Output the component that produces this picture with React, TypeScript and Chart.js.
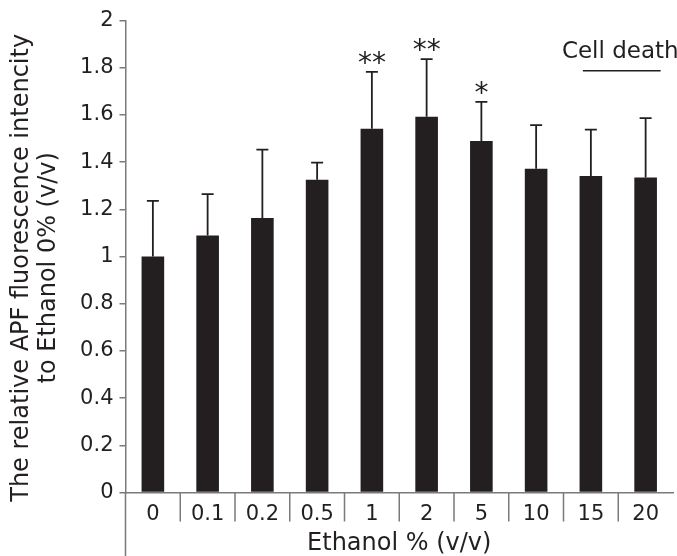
import React, { useEffect, useRef } from "react";
import { Chart, registerables } from "chart.js";

Chart.register(...registerables);

const categories = ["0", "0.1", "0.2", "0.5", "1", "2", "5", "10", "15", "20"];
const values = [1.0, 1.089, 1.163, 1.325, 1.541, 1.592, 1.489, 1.372, 1.341, 1.335];
const errors = [0.236, 0.175, 0.29, 0.073, 0.241, 0.244, 0.166, 0.185, 0.197, 0.251];
const significance = ["", "", "", "", "**", "**", "*", "", "", ""];
const yTitleLines = ["The relative APF fluorescence intencity", "to Ethanol 0% (v/v)"];
const xTitle = "Ethanol % (v/v)";
const cellDeathLabel = "Cell death";

const FONT = "'DejaVu Sans', Verdana, sans-serif";
const INK = "#231f20";
const AXIS = "#7a7a7a";

const decorPlugin = {
  id: "decor",
  afterDatasetsDraw(chart: any) {
    const ctx = chart.ctx;
    const x = chart.scales.x;
    const y = chart.scales.y;
    const area = chart.chartArea;
    ctx.save();
    // error bars
    ctx.strokeStyle = INK;
    ctx.lineWidth = 1.8;
    values.forEach((v, i) => {
      const px = x.getPixelForValue(i);
      const top = y.getPixelForValue(v + errors[i]);
      const base = y.getPixelForValue(v);
      ctx.beginPath();
      ctx.moveTo(px, base);
      ctx.lineTo(px, top);
      ctx.moveTo(px - 6, top);
      ctx.lineTo(px + 6, top);
      ctx.stroke();
      if (significance[i]) {
        ctx.fillStyle = INK;
        ctx.font = `28px ${FONT}`;
        ctx.textAlign = "center";
        ctx.textBaseline = "middle";
        ctx.fillText(significance[i], px, top - 7);
      }
    });
    // cell death annotation
    const x1 = x.getPixelForValue(8) - 8;
    const x2 = x.getPixelForValue(9) + 15;
    const ly = y.getPixelForValue(1.787);
    ctx.strokeStyle = INK;
    ctx.lineWidth = 1.5;
    ctx.beginPath();
    ctx.moveTo(x1, ly);
    ctx.lineTo(x2, ly);
    ctx.stroke();
    ctx.fillStyle = INK;
    ctx.font = `23px ${FONT}`;
    ctx.textAlign = "center";
    ctx.textBaseline = "middle";
    ctx.fillText(cellDeathLabel, (x.getPixelForValue(8) + x.getPixelForValue(9)) / 2 + 2, y.getPixelForValue(1.868));

    // category separators below axis
    ctx.strokeStyle = AXIS;
    ctx.lineWidth = 1.5;
    ctx.beginPath();
    for (let i = 1; i < categories.length; i++) {
      const bx = (x.getPixelForValue(i - 1) + x.getPixelForValue(i)) / 2;
      ctx.moveTo(bx, area.bottom);
      ctx.lineTo(bx, area.bottom + 29);
    }
    // y axis extension
    ctx.moveTo(area.left, area.bottom);
    ctx.lineTo(area.left, chart.height);
    ctx.stroke();

    // y title
    ctx.fillStyle = INK;
    ctx.font = `24px ${FONT}`;
    ctx.textAlign = "center";
    ctx.textBaseline = "middle";
    const cy = y.getPixelForValue(0.952);
    ctx.translate(22, cy);
    ctx.rotate(-Math.PI / 2);
    ctx.fillText(yTitleLines[0], 0, 0);
    ctx.fillText(yTitleLines[1], 0, 27);
    ctx.restore();

    // x title
    ctx.save();
    ctx.fillStyle = INK;
    ctx.font = `24px ${FONT}`;
    ctx.textAlign = "center";
    ctx.textBaseline = "middle";
    ctx.fillText(xTitle, (area.left + area.right) / 2, 544);
    ctx.restore();
  },
};

export default function App() {
  const ref = useRef<HTMLCanvasElement | null>(null);
  useEffect(() => {
    if (!ref.current) return;
    const chart = new Chart(ref.current, {
      type: "bar",
      data: {
        labels: categories,
        datasets: [
          {
            data: values,
            backgroundColor: INK,
            borderWidth: 0,
            barPercentage: 0.413,
            categoryPercentage: 1,
          },
        ],
      },
      options: {
        animation: false,
        responsive: false,
        devicePixelRatio: 1,
        layout: { padding: { left: 0, top: 20.5, right: 4, bottom: 0 } },
        plugins: { legend: { display: false }, tooltip: { enabled: false } },
        scales: {
          x: {
            grid: { display: false },
            border: { display: true, color: AXIS, width: 1.5 },
            ticks: { color: INK, font: { family: FONT, size: 21 }, padding: 1 },
            afterFit: (s: any) => {
              s.height = 63.5;
            },
          },
          y: {
            min: 0,
            max: 2,
            grid: { drawOnChartArea: false, drawTicks: true, tickLength: 6, color: AXIS, lineWidth: 1.5 },
            border: { display: true, color: AXIS, width: 1.5 },
            ticks: {
              stepSize: 0.2,
              color: INK,
              font: { family: FONT, size: 21 },
              padding: 6,
              callback: (v: any) => String(Math.round(Number(v) * 10) / 10),
            },
            afterFit: (s: any) => {
              s.width = 125.5;
            },
          },
        },
      },
      plugins: [decorPlugin],
    });
    return () => chart.destroy();
  }, []);
  return (
    <div style={{ position: "fixed", left: 0, top: 0, width: 677, height: 556, background: "#fff" }}>
      <canvas ref={ref} width={677} height={556} style={{ display: "block" }} />
    </div>
  );
}
